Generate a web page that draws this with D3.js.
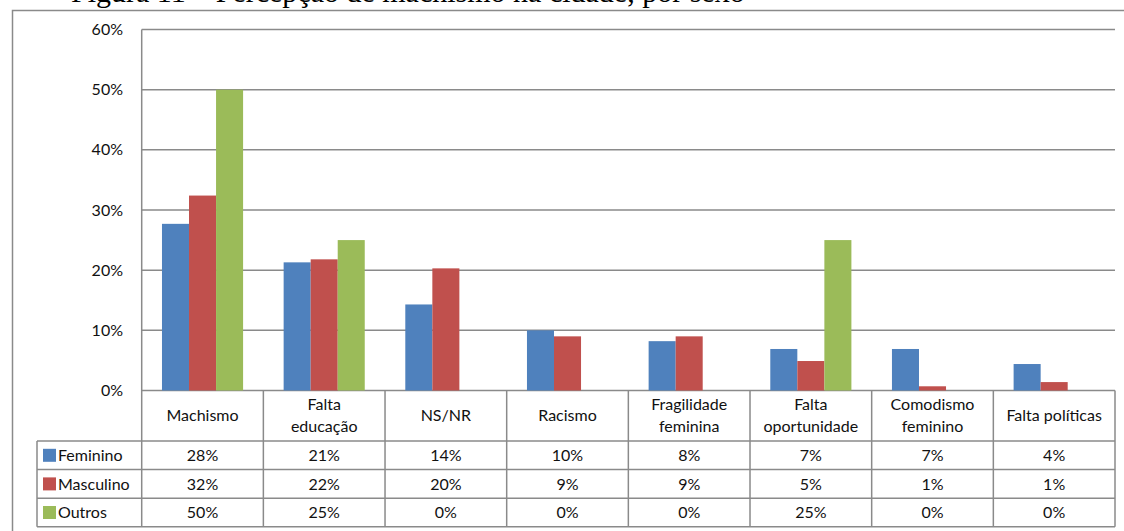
<!DOCTYPE html>
<html>
<head>
<meta charset="utf-8">
<script src="https://cdn.jsdelivr.net/npm/d3@7"></script>
<style>
  html, body { margin: 0; padding: 0; background: #fff; }
  svg { display: block; }
</style>
</head>
<body>
<svg id="chart" width="1124" height="531"></svg>
<script>
// Categories (reasons given) and the share of each group citing them, in %
const categories = ["Machismo", "Falta educação", "NS/NR", "Racismo", "Fragilidade feminina",
                    "Falta oportunidade", "Comodismo feminino", "Falta políticas"];
const categoryLines = [["Machismo"], ["Falta", "educação"], ["NS/NR"], ["Racismo"],
                       ["Fragilidade", "feminina"], ["Falta", "oportunidade"],
                       ["Comodismo", "feminino"], ["Falta políticas"]];
const seriesNames = ["Feminino", "Masculino", "Outros"];
const feminino  = [27.7, 21.3, 14.3, 10.0, 8.2, 6.9, 6.9, 4.4];
const masculino = [32.4, 21.8, 20.3, 9.0, 9.0, 4.9, 0.7, 1.4];
const outros    = [50, 25, 0, 0, 0, 25, 0, 0];
const yTicks = [0, 10, 20, 30, 40, 50, 60];
const colors = ["#4F81BD", "#C0504D", "#9BBB59"];

const seriesValues = [feminino, masculino, outros];
const series = seriesNames.map((name, i) => ({ name, color: colors[i], values: seriesValues[i] }));

const svg = d3.select("#chart");
const gridColor = "#8a8a8a";
const font = "Lato, 'Open Sans', sans-serif";
const fs = 16;

// Caption line above the chart frame (only its lower part lies inside the page)
svg.append("text")
  .attr("x", 71).attr("y", 1.5)
  .attr("font-family", "'Liberation Serif', 'Times New Roman', serif")
  .attr("font-size", 30)
  .attr("fill", "#000")
  .text("Figura 11 – Percepção de machismo na cidade, por sexo");

// Chart frame
svg.append("path")
  .attr("d", "M12.5,540 V10.5 H1130")
  .attr("fill", "none").attr("stroke", gridColor).attr("stroke-width", 1.5);

const plotLeft = 141.7, plotRight = 1115, plotTop = 29.5, plotBottom = 390.5;

const x = d3.scaleBand().domain(categories).range([plotLeft, plotRight]).paddingInner(0).paddingOuter(0);
const bw = x.bandwidth();
const barW = bw / 4.5; // gap width 150%
const x1 = d3.scaleBand().domain(seriesNames).range([0.75 * barW, 3.75 * barW]);
const y = d3.scaleLinear().domain([0, 60]).range([plotBottom, plotTop]);

// Gridlines
svg.append("g").selectAll("line").data(yTicks).join("line")
  .attr("x1", plotLeft).attr("x2", plotRight)
  .attr("y1", d => y(d)).attr("y2", d => y(d))
  .attr("stroke", gridColor).attr("stroke-width", 1.5);

// Y axis labels
const yAxis = d3.axisLeft(y).tickValues(yTicks).tickFormat(d => d + "%").tickSize(0).tickPadding(0);
const yg = svg.append("g").attr("transform", `translate(123,0)`).call(yAxis);
yg.select(".domain").remove();
yg.selectAll("text").attr("font-family", font).attr("font-size", fs).attr("fill", "#111");

// Bars
series.forEach(s => {
  svg.append("g").selectAll("rect").data(categories.map((c, i) => ({ c, v: s.values[i] })))
    .join("rect")
    .attr("x", d => x(d.c) + x1(s.name))
    .attr("width", x1.bandwidth())
    .attr("y", d => y(d.v))
    .attr("height", d => y(0) - y(d.v))
    .attr("fill", s.color);
});

// Data table under the plot
const headerBottom = 441;
const rowH = 28.6;
const tableLeft = 37;
const tableBottom = headerBottom + rowH * 3;
const lines = svg.append("g").attr("stroke", gridColor).attr("stroke-width", 1.5).attr("fill", "none");

// Value axis line extends down into the table
lines.append("line").attr("x1", plotLeft).attr("x2", plotLeft).attr("y1", plotTop).attr("y2", tableBottom);
// Column separators
categories.forEach(c => {
  lines.append("line").attr("x1", x(c) + bw).attr("x2", x(c) + bw).attr("y1", plotBottom).attr("y2", tableBottom);
});
// Row separators
lines.append("line").attr("x1", tableLeft).attr("x2", plotRight).attr("y1", headerBottom).attr("y2", headerBottom);
for (let r = 1; r <= 3; r++) {
  lines.append("line").attr("x1", tableLeft).attr("x2", plotRight)
    .attr("y1", headerBottom + rowH * r).attr("y2", headerBottom + rowH * r);
}
lines.append("line").attr("x1", tableLeft).attr("x2", tableLeft).attr("y1", headerBottom).attr("y2", tableBottom);

// Category header cells
const headerMid = (plotBottom + headerBottom) / 2;
categories.forEach((c, i) => {
  const ls = categoryLines[i];
  const t = svg.append("text")
    .attr("x", x(c) + bw / 2)
    .attr("text-anchor", "middle")
    .attr("font-family", font).attr("font-size", fs).attr("fill", "#111");
  ls.forEach((l, j) => {
    t.append("tspan")
      .attr("x", x(c) + bw / 2)
      .attr("y", headerMid + (j - (ls.length - 1) / 2) * 22)
      .attr("dy", "0.35em")
      .text(l);
  });
});

// Legend keys and values per series
series.forEach((s, r) => {
  const cy = headerBottom + rowH * r + rowH / 2;
  svg.append("rect").attr("x", 43).attr("y", cy - 6.5).attr("width", 13).attr("height", 13).attr("fill", s.color);
  svg.append("text").attr("x", 58).attr("y", cy).attr("dy", "0.35em")
    .attr("font-family", font).attr("font-size", fs).attr("fill", "#111").text(s.name);
  svg.append("g").selectAll("text").data(categories.map((c, i) => ({ c, v: s.values[i] })))
    .join("text")
    .attr("x", d => x(d.c) + bw / 2).attr("y", cy).attr("dy", "0.35em")
    .attr("text-anchor", "middle")
    .attr("font-family", font).attr("font-size", fs).attr("fill", "#111")
    .text(d => Math.round(d.v) + "%");
});
</script>
</body>
</html>
